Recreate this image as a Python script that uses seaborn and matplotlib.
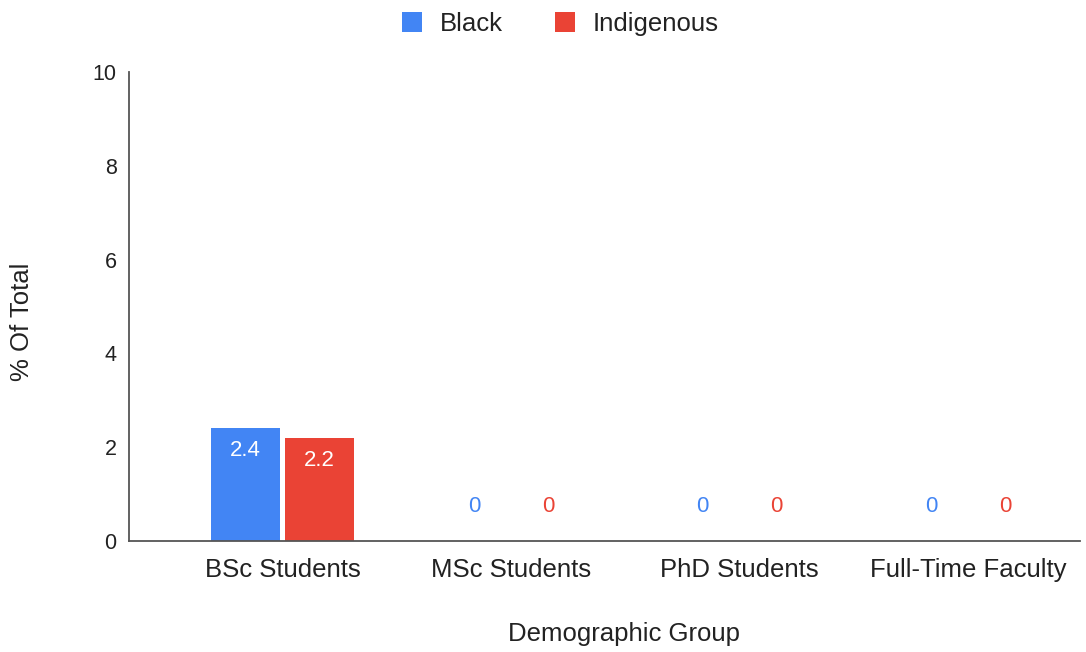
import matplotlib
matplotlib.use("Agg")
import matplotlib.pyplot as plt
import seaborn as sns
import pandas as pd

categories = ["BSc Students", "MSc Students", "PhD Students", "Full-Time Faculty"]
black = [2.4, 0, 0, 0]
indigenous = [2.2, 0, 0, 0]
series_names = ["Black", "Indigenous"]
colors = ["#4285F4", "#EA4335"]
y_ticks = [0, 2, 4, 6, 8, 10]

df = pd.DataFrame({
    "Demographic Group": categories * 2,
    "value": black + indigenous,
    "series": [series_names[0]] * len(categories) + [series_names[1]] * len(categories),
})

sns.set_theme(style="white")
plt.rcParams["font.family"] = ["Liberation Sans", "DejaVu Sans"]

fig = plt.figure(figsize=(10.86, 6.52), dpi=100)
ax = fig.add_axes([129 / 1086, 1 - 541 / 652, (1080 - 129) / 1086, (541 - 72) / 652])

sns.barplot(data=df, x="Demographic Group", y="value", hue="series",
            hue_order=series_names, palette=colors, width=0.645, gap=0.07,
            saturation=1, errorbar=None, ax=ax, linewidth=0)

ax.set_ylim(0, 10)
ax.set_yticks(y_ticks)
ax.set_xlim(-0.672, 3.49)
for s in ["top", "right"]:
    ax.spines[s].set_visible(False)
ax.spines["left"].set_color("#555555")
ax.spines["left"].set_linewidth(1.3)
ax.spines["bottom"].set_color("#555555")
ax.spines["bottom"].set_linewidth(1.3)
ax.tick_params(axis="y", length=0, pad=9, labelsize=15.5, labelcolor="#222222")
ax.tick_params(axis="x", length=0, pad=12, labelsize=18.5, labelcolor="#222222")

ax.set_ylabel("% Of Total", fontsize=18.5, color="#222222")
ax.yaxis.set_label_coords(-0.1, 0.467)
ax.set_xlabel("Demographic Group", fontsize=18.5, color="#222222")
ax.xaxis.set_label_coords(0.52, -0.172)

# value labels: inside the bar for non-zero values, above the baseline for zeros
for container, color in zip(ax.containers, colors):
    for patch, val in zip(container.patches, container.datavalues):
        cx = patch.get_x() + patch.get_width() / 2
        label = f"{val:g}"
        if val > 0:
            ax.annotate(label, (cx, val), xytext=(0, -16), textcoords="offset points",
                        ha="center", va="center", color="white", fontsize=16)
        else:
            ax.annotate(label, (cx, val), xytext=(0, 24.5), textcoords="offset points",
                        ha="center", va="center", color=color, fontsize=16)

sns.move_legend(ax, "upper center", bbox_to_anchor=(0.516, 1.017), bbox_transform=fig.transFigure,
                ncol=2, frameon=False, title=None, fontsize=18.5,
                handlelength=0.8, handleheight=0.8, columnspacing=2.0, handletextpad=0.7)
for t in ax.get_legend().get_texts():
    t.set_color("#222222")

fig.savefig("out.png", dpi=100, facecolor="white")
